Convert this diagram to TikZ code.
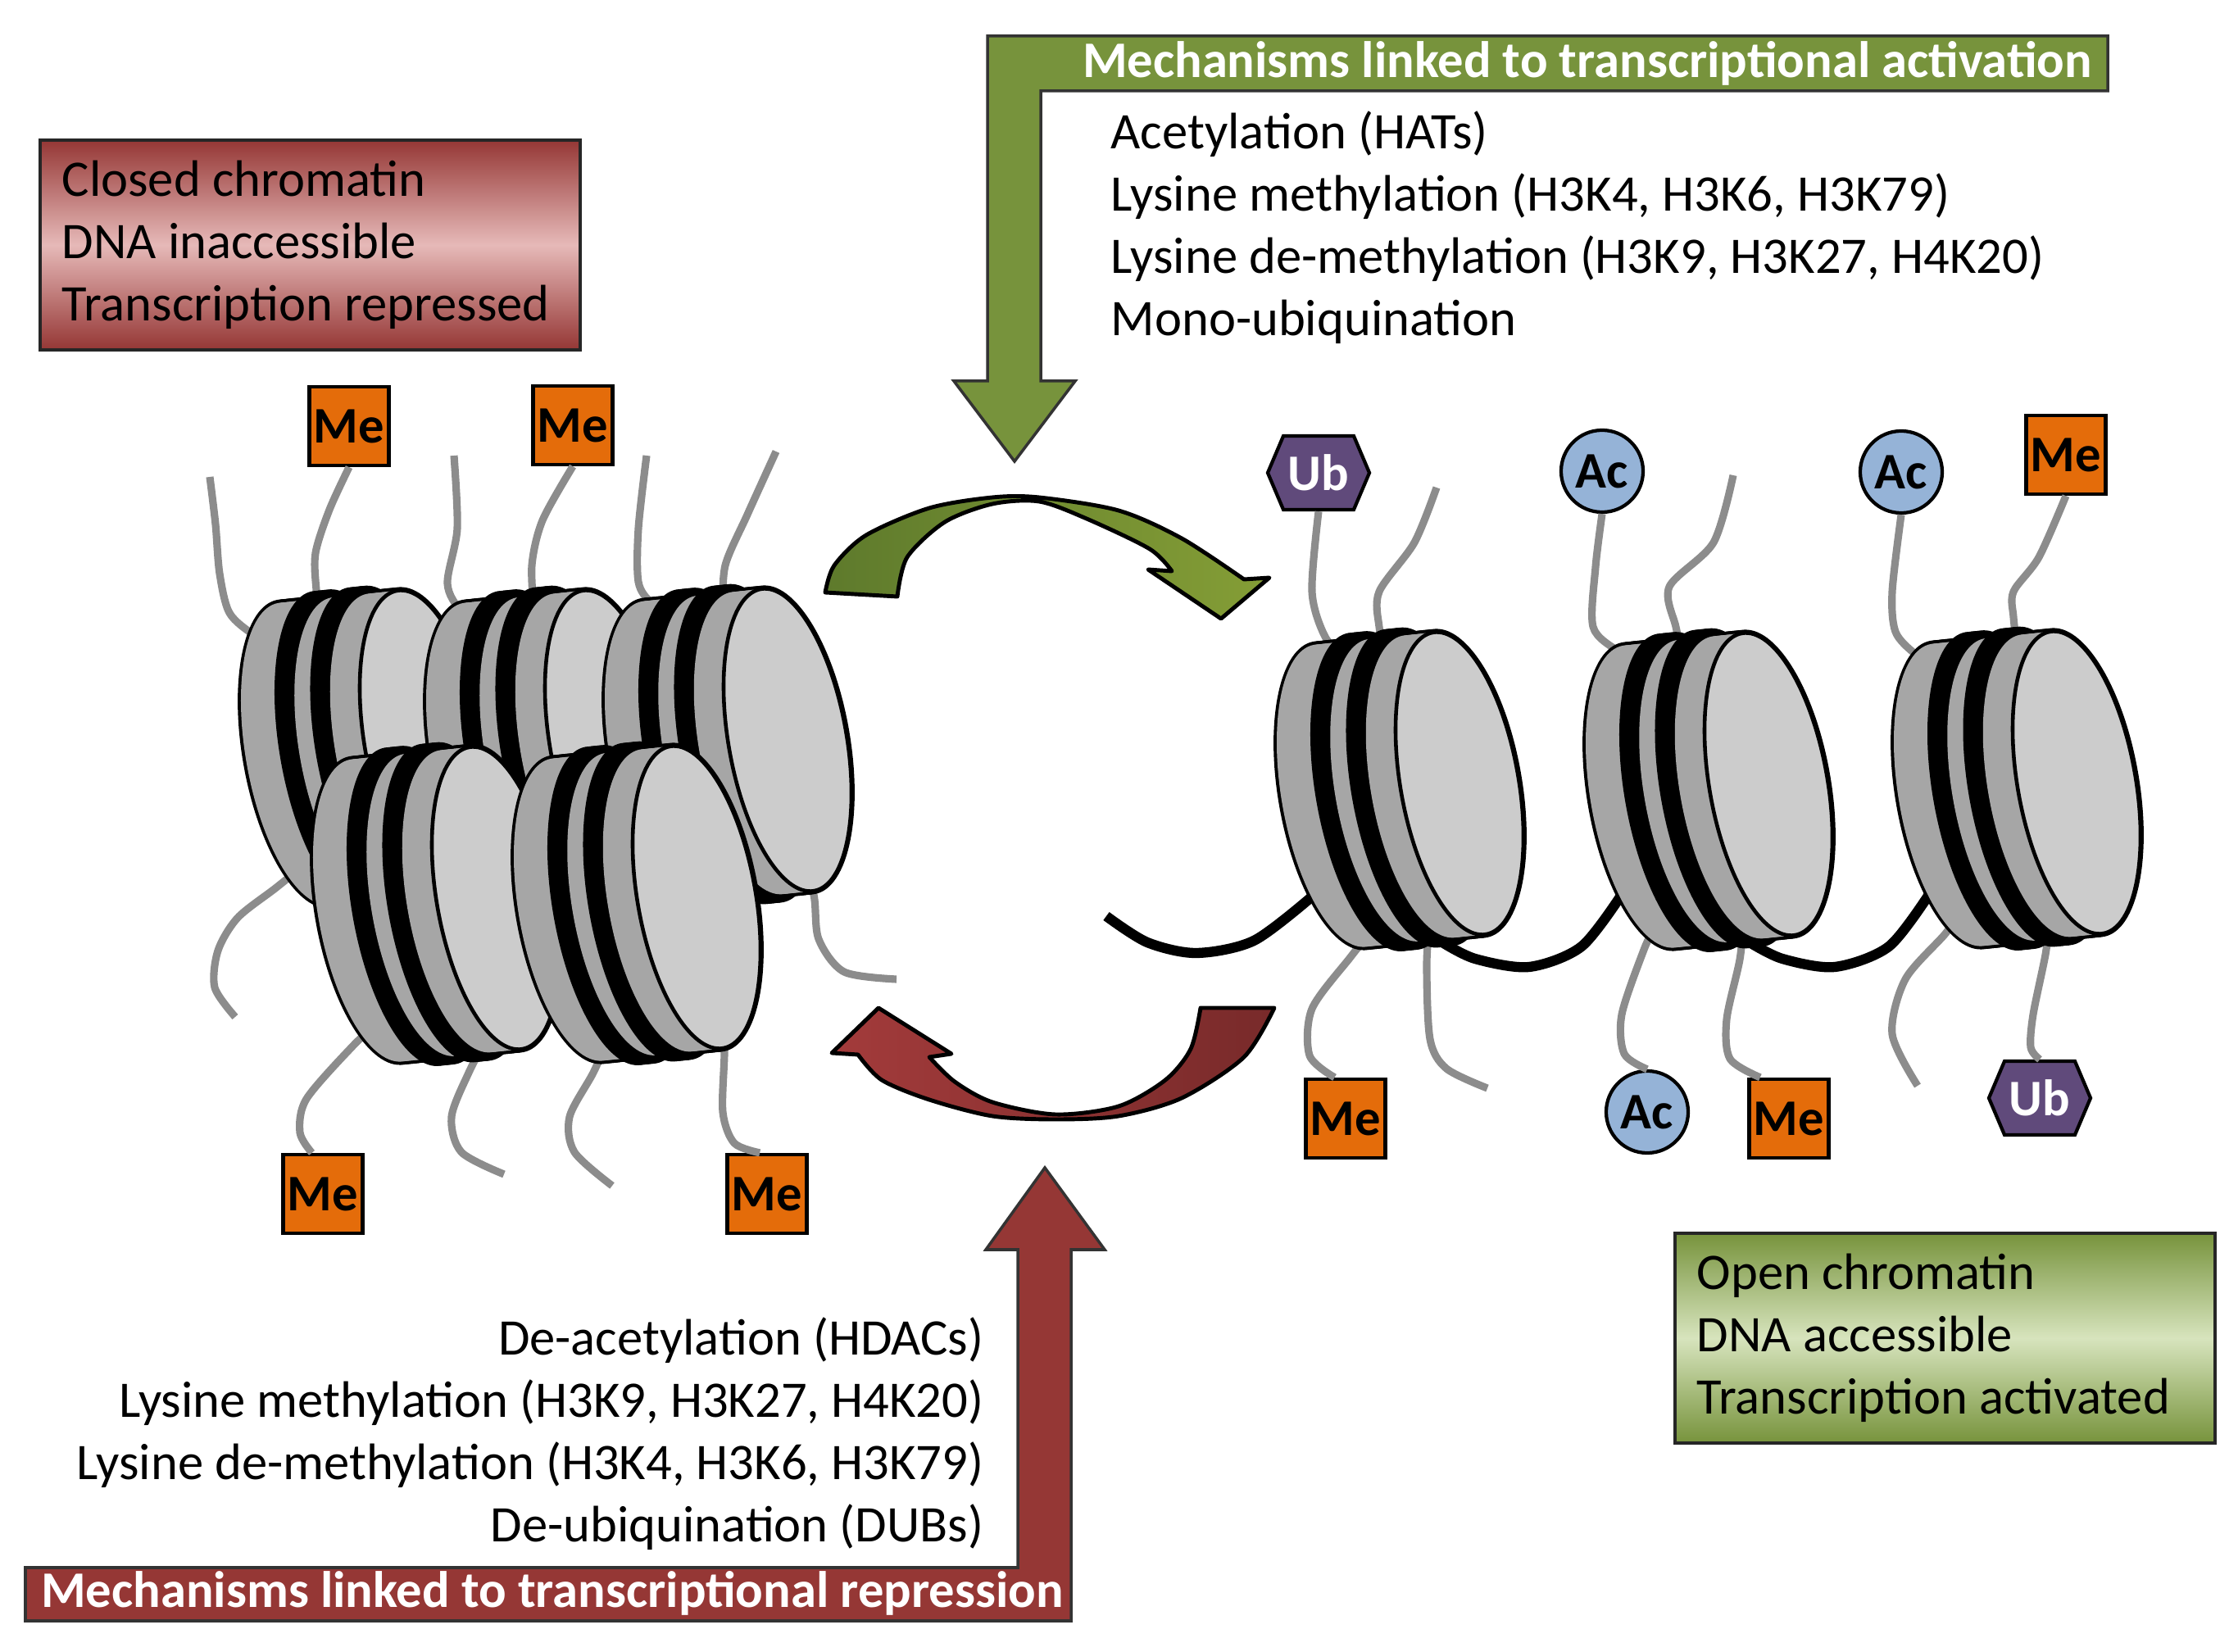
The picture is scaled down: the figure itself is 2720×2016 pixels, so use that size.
\documentclass[tikz,border=0pt]{standalone}
\usepackage{fontspec}
\setmainfont{Carlito}
\usetikzlibrary{positioning,shapes.symbols}

\definecolor{nucbody}{HTML}{A6A6A6}
\definecolor{nucface}{HTML}{CCCCCC}
\definecolor{tailgrey}{HTML}{8C8C8C}
\definecolor{meorange}{HTML}{E46C0A}
\definecolor{acblue}{HTML}{95B3D7}
\definecolor{ubpurple}{HTML}{604A7B}
\definecolor{actgreen}{HTML}{77933C}
\definecolor{actlight}{HTML}{D7E4BD}
\definecolor{actdark}{HTML}{5E7A2C}
\definecolor{repred}{HTML}{953735}
\definecolor{replight}{HTML}{E6B9B8}
\definecolor{repbright}{HTML}{A33B3B}
\definecolor{repdark}{HTML}{782A2A}

\newcommand{\textsz}{\fontsize{17.8pt}{21.6pt}\selectfont}

\newcommand{\nucleosome}[2]{%
  \foreach \i in {0,...,40}
    \fill[black, shift={({#1-145+3.625*\i},{#2+15-0.375*\i})}, rotate=10]
      (0,0) ellipse [x radius=76, y radius=191];
  \foreach \i in {0,...,40}{
    \pgfmathtruncatemacro\wrap{(\i>11)*(\i<18)+(\i>23)*(\i<30)}
    \ifnum\wrap=1
      \fill[black, shift={({#1-145+3.625*\i},{#2+15-0.375*\i})}, rotate=10]
        (0,0) ellipse [x radius=74, y radius=197];
    \else
      \fill[nucbody, shift={({#1-145+3.625*\i},{#2+15-0.375*\i})}, rotate=10]
        (0,0) ellipse [x radius=72, y radius=187];
    \fi}
  \filldraw[fill=nucface, line width=1.3pt, shift={(#1,#2)}, rotate=10]
    (0,0) ellipse [x radius=72, y radius=187];
}

\tikzset{
  tail/.style={draw=tailgrey, line width=2.6pt},
  linker/.style={draw=black, line width=3.5pt},
  mod/.style={draw=black, line width=1.2pt, font=\textsz\bfseries, inner sep=0pt},
  me/.style={mod, rectangle, fill=meorange, minimum width=0.97cm, minimum height=0.96cm},
  ac/.style={mod, circle, fill=acblue, minimum size=1cm},
  ub/.style={mod, signal, signal to=east and west, signal pointer angle=134,
    fill=ubpurple, text=white, minimum width=1.24cm, minimum height=0.9cm},
  statebox/.style={draw=black!85, line width=1pt, align=flush left, inner xsep=0.27cm,
    text width=6.05cm, minimum height=2.56cm, anchor=north west},
  mechlist/.style={inner sep=0pt},
  headtext/.style={text=white, font=\textsz\bfseries, inner sep=0pt},
  bigarrow/.style={draw=black!80, line width=1pt},
  cyclearrow/.style={draw=black, line width=1.4pt, line join=round}
}

\begin{document}
\begin{tikzpicture}[x=0.01cm, y=-0.01cm, every node/.append style={font=\textsz}]
\useasboundingbox (0,0) rectangle (2720,2016);

\draw[bigarrow, fill=actgreen] (1205,44) -- (2572,44) -- (2572,111) -- (1270,111) -- (1270,465)
  -- (1312,465) -- (1238,563) -- (1164,465) -- (1205,465) -- cycle;
\draw[bigarrow, fill=repred] (31,1978) -- (1307,1978) -- (1307,1525) -- (1348,1525) -- (1275,1425)
  -- (1203,1525) -- (1242,1525) -- (1242,1913) -- (31,1913) -- cycle;
\node[headtext] (acthead) at (1937,77) {Mechanisms linked to transcriptional activation};
\node[headtext] (rephead) at (674,1944) {Mechanisms linked to transcriptional repression};

\node[mechlist, align=flush left, anchor=west] (actlist) at (1355,278)
  {Acetylation (HATs)\\Lysine methylation (H3K4, H3K6, H3K79)\\Lysine de-methylation (H3K9, H3K27, H4K20)\\Mono-ubiquination};
\node[mechlist, align=flush right, anchor=east] (replist) at (1201,1750)
  {De-acetylation (HDACs)\\Lysine methylation (H3K9, H3K27, H4K20)\\Lysine de-methylation (H3K4, H3K6, H3K79)\\De-ubiquination (DUBs)};

\node[statebox, top color=repred, bottom color=repred, middle color=replight] (closed) at (47,169)
  {Closed chromatin\\DNA inaccessible\\Transcription repressed};
\node[statebox, top color=actgreen, bottom color=actgreen, middle color=actlight] (open) at (2042,1503)
  {Open chromatin\\DNA accessible\\Transcription activated};

\node[me] (me1) at (426,520) {Me};
\node[me] (me2) at (699,519) {Me};
\node[me] (me3) at (394,1457) {Me};
\node[me] (me4) at (936,1457) {Me};
\node[ub] (ub1) at (1609,577) {Ub};
\node[ac] (ac1) at (1955,575) {Ac};
\node[ac] (ac2) at (2320,576) {Ac};
\node[me] (me5) at (2521,555) {Me};
\node[me] (me6) at (1642,1365) {Me};
\node[ac] (ac3) at (2010,1357) {Ac};
\node[me] (me7) at (2183,1365) {Me};
\node[ub] (ub2) at (2489,1340) {Ub};

\draw[tail] plot[smooth] coordinates {(256,582) (263,640) (268,700) (280,748) (310,775) (340,790)};
\draw[tail] plot[smooth] coordinates {(me1.south) (402,622) (385,675) (386,720) (392,765)};
\draw[tail] plot[smooth] coordinates {(554,556) (558,645) (546,712) (563,746) (595,768)};
\draw[tail] plot[smooth] coordinates {(me2.south) (662,635) (649,690) (652,750)};
\draw[tail] plot[smooth] coordinates {(789,556) (779,645) (779,710) (795,736) (825,758)};
\draw[tail] plot[smooth] coordinates {(947,551) (912,628) (885,690) (882,745)};
\draw[tail] plot[smooth] coordinates {(372,1055) (336,1084) (290,1120) (266,1160) (262,1205) (287,1241)};
\draw[tail] plot[smooth] coordinates {(975,1040) (993,1092) (999,1146) (1030,1186) (1094,1195)};
\nucleosome{517}{905}
\nucleosome{743}{905}
\nucleosome{961}{903}
\draw[tail] plot[smooth] coordinates {(me3.105) (366,1382) (374,1341) (431,1276) (465,1245)};
\draw[tail] plot[smooth] coordinates {(595,1265) (572,1309) (551,1363) (563,1406) (615,1433)};
\draw[tail] plot[smooth] coordinates {(745,1262) (724,1309) (695,1363) (701,1406) (747,1447)};
\draw[tail] plot[smooth] coordinates {(me4.100) (896,1395) (882,1357) (884,1282) (880,1245)};
\nucleosome{605}{1096}
\nucleosome{850}{1095}

\draw[linker] plot[smooth] coordinates {(1350,1118) (1400,1150) (1460,1163) (1530,1148) (1600,1095)};
\draw[linker] plot[smooth] coordinates {(1760,1150) (1800,1170) (1866,1180) (1930,1155) (1980,1090)};
\draw[linker] plot[smooth] coordinates {(2135,1150) (2175,1170) (2239,1180) (2305,1155) (2355,1090)};
\draw[tail] plot[smooth] coordinates {(ub1.south) (1601,722) (1617,777) (1645,808)};
\draw[tail] plot[smooth] coordinates {(1753,595) (1726,662) (1683,722) (1683,765) (1692,805)};
\draw[tail] plot[smooth] coordinates {(ac1.south) (1947,692) (1944,765) (1975,795) (2005,812)};
\draw[tail] plot[smooth] coordinates {(2115,580) (2091,662) (2037,716) (2045,765) (2055,805)};
\draw[tail] plot[smooth] coordinates {(ac2.south) (2309,722) (2313,771) (2337,798) (2365,815)};
\draw[tail] plot[smooth] coordinates {(me5.south) (2488,680) (2457,722) (2457,753) (2462,795)};
\draw[tail] plot[smooth] coordinates {(me6.105) (1598,1288) (1601,1231) (1648,1168) (1672,1138)};
\draw[tail] plot[smooth] coordinates {(1745,1120) (1741,1177) (1745,1268) (1765,1304) (1815,1328)};
\draw[tail] plot[smooth] coordinates {(ac3.north) (1982,1286) (1979,1238) (2006,1159) (2020,1130)};
\draw[tail] plot[smooth] coordinates {(me7.125) (2111,1292) (2107,1244) (2123,1171) (2128,1120)};
\draw[tail] plot[smooth] coordinates {(2392,1108) (2375,1138) (2325,1195) (2309,1262) (2340,1325)};
\draw[tail] plot[smooth] coordinates {(ub2.north) (2478,1278) (2481,1238) (2496,1165) (2500,1130)};
\nucleosome{1781}{956}
\nucleosome{2158}{957}
\nucleosome{2534}{955}

\draw[cyclearrow, left color=actdark, right color=actgreen!90!yellow]
  plot[smooth] coordinates {(1007,723) (1018,690) (1057,653) (1134,620) (1211,607) (1268,607) (1365,623) (1442,657) (1518,707)}
  -- (1549,705) -- (1490,755) -- (1401,695) -- (1430,697)
  -- plot[smooth] coordinates {(1430,697) (1403,670) (1326,633) (1268,612) (1211,615) (1153,637) (1107,680) (1095,728)} -- cycle;
\draw[cyclearrow, left color=repbright, right color=repdark]
  plot[smooth] coordinates {(1555,1230) (1518,1290) (1442,1340) (1365,1362) (1288,1366) (1211,1362) (1134,1342) (1076,1318) (1047,1287)}
  -- (1015,1285) -- (1072,1230) -- (1161,1286) -- (1134,1290)
  -- plot[smooth] coordinates {(1134,1290) (1165,1320) (1211,1345) (1288,1360) (1365,1350) (1422,1318) (1453,1280) (1465,1230)} -- cycle;
\end{tikzpicture}
\end{document}
